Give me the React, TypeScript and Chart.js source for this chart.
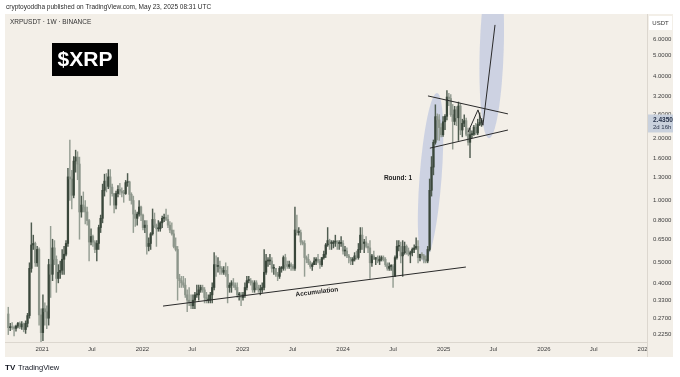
import React, { useEffect, useRef } from 'react';
import { Chart, registerables } from 'chart.js';

Chart.register(...registerables);

// ---- time axis: days counted from 2021-01-01; weekly candles start on Monday 2020-08-31
const FIRST_WEEK_DAY = -123;
const FIRST_OPEN = 0.283;

// ---- weekly XRPUSDT candles (close / high / low), open = previous close
const close2020 = [0.243, 0.245, 0.243, 0.241, 0.247, 0.255, 0.245, 0.253, 0.238, 0.255, 0.278, 0.47, 0.61, 0.62, 0.5, 0.58, 0.28, 0.23];
const high2020 = [0.305, 0.255, 0.257, 0.248, 0.25, 0.258, 0.259, 0.26, 0.256, 0.262, 0.285, 0.5, 0.78, 0.68, 0.63, 0.6, 0.59, 0.3];
const low2020 = [0.225, 0.235, 0.238, 0.222, 0.234, 0.242, 0.24, 0.238, 0.232, 0.228, 0.245, 0.27, 0.45, 0.58, 0.48, 0.48, 0.25, 0.17];

const close2021 = [0.3, 0.29, 0.27, 0.49, 0.44, 0.59, 0.52, 0.42, 0.45, 0.46, 0.52, 0.55, 0.62, 1.3, 1.27, 1.06, 1.55, 1.62, 1.5, 0.88, 0.95, 0.93, 0.88, 0.8, 0.63, 0.67, 0.63, 0.58, 0.62, 0.74, 0.82, 1.12, 1.24, 1.17, 1.3, 1.16, 1.08, 0.95, 1.08, 1.13, 1.11, 1.09, 1.08, 1.22, 1.23, 1.07, 1.0, 0.86, 0.82, 0.86, 0.93, 0.85];
const high2021 = [0.35, 0.32, 0.31, 0.52, 0.75, 0.65, 0.64, 0.54, 0.49, 0.51, 0.58, 0.6, 0.64, 1.43, 1.96, 1.4, 1.63, 1.75, 1.72, 1.62, 1.05, 1.1, 1.0, 0.93, 0.81, 0.73, 0.68, 0.64, 0.64, 0.76, 0.85, 1.2, 1.34, 1.35, 1.41, 1.41, 1.2, 1.08, 1.11, 1.18, 1.21, 1.15, 1.12, 1.25, 1.35, 1.24, 1.09, 1.05, 0.9, 0.88, 1.0, 0.94];
const low2021 = [0.21, 0.25, 0.24, 0.25, 0.34, 0.41, 0.49, 0.36, 0.4, 0.42, 0.44, 0.44, 0.54, 0.6, 1.0, 0.91, 1.03, 1.37, 1.26, 0.65, 0.83, 0.88, 0.77, 0.76, 0.51, 0.61, 0.6, 0.56, 0.51, 0.58, 0.7, 0.78, 1.05, 1.1, 1.14, 0.95, 1.05, 0.87, 0.91, 1.04, 1.07, 1.04, 0.98, 1.07, 1.17, 1.0, 0.96, 0.7, 0.75, 0.76, 0.84, 0.8];

const close2022 = [0.74, 0.76, 0.6, 0.62, 0.69, 0.81, 0.76, 0.73, 0.73, 0.78, 0.82, 0.83, 0.81, 0.76, 0.72, 0.69, 0.6, 0.58, 0.42, 0.41, 0.4, 0.39, 0.35, 0.33, 0.32, 0.31, 0.33, 0.35, 0.35, 0.37, 0.38, 0.37, 0.34, 0.33, 0.33, 0.35, 0.38, 0.49, 0.48, 0.48, 0.47, 0.45, 0.46, 0.44, 0.38, 0.39, 0.4, 0.39, 0.38, 0.35, 0.35, 0.34];
const high2022 = [0.86, 0.8, 0.8, 0.66, 0.7, 0.91, 0.87, 0.77, 0.8, 0.79, 0.84, 0.86, 0.91, 0.85, 0.79, 0.78, 0.72, 0.66, 0.6, 0.44, 0.43, 0.43, 0.42, 0.37, 0.38, 0.35, 0.35, 0.36, 0.39, 0.39, 0.39, 0.39, 0.38, 0.36, 0.35, 0.36, 0.4, 0.56, 0.54, 0.53, 0.51, 0.48, 0.48, 0.5, 0.48, 0.4, 0.41, 0.42, 0.4, 0.4, 0.36, 0.36];
const low2022 = [0.72, 0.7, 0.55, 0.57, 0.58, 0.68, 0.74, 0.6, 0.71, 0.71, 0.74, 0.79, 0.8, 0.74, 0.7, 0.68, 0.59, 0.57, 0.33, 0.38, 0.38, 0.38, 0.34, 0.29, 0.31, 0.3, 0.3, 0.3, 0.34, 0.33, 0.36, 0.36, 0.32, 0.32, 0.32, 0.32, 0.32, 0.37, 0.43, 0.45, 0.44, 0.44, 0.44, 0.43, 0.32, 0.36, 0.36, 0.38, 0.37, 0.34, 0.33, 0.31];

const close2023 = [0.35, 0.38, 0.41, 0.41, 0.4, 0.37, 0.4, 0.38, 0.37, 0.37, 0.38, 0.45, 0.51, 0.51, 0.51, 0.47, 0.47, 0.44, 0.43, 0.47, 0.47, 0.53, 0.49, 0.48, 0.49, 0.48, 0.47, 0.72, 0.7, 0.7, 0.63, 0.62, 0.53, 0.52, 0.5, 0.48, 0.49, 0.51, 0.52, 0.51, 0.49, 0.53, 0.55, 0.61, 0.64, 0.62, 0.62, 0.63, 0.63, 0.62, 0.62, 0.62];
const high2023 = [0.36, 0.4, 0.43, 0.43, 0.42, 0.41, 0.41, 0.41, 0.39, 0.39, 0.4, 0.58, 0.55, 0.53, 0.55, 0.53, 0.49, 0.47, 0.45, 0.48, 0.48, 0.54, 0.55, 0.51, 0.51, 0.5, 0.49, 0.93, 0.85, 0.74, 0.72, 0.64, 0.64, 0.54, 0.55, 0.51, 0.5, 0.53, 0.53, 0.55, 0.52, 0.53, 0.57, 0.62, 0.74, 0.65, 0.64, 0.64, 0.68, 0.64, 0.64, 0.67];
const low2023 = [0.33, 0.34, 0.37, 0.4, 0.39, 0.36, 0.36, 0.37, 0.36, 0.35, 0.36, 0.37, 0.44, 0.48, 0.49, 0.45, 0.44, 0.43, 0.41, 0.42, 0.45, 0.46, 0.46, 0.47, 0.47, 0.46, 0.46, 0.46, 0.68, 0.68, 0.61, 0.61, 0.43, 0.5, 0.49, 0.47, 0.46, 0.49, 0.49, 0.5, 0.47, 0.48, 0.52, 0.53, 0.6, 0.58, 0.58, 0.59, 0.6, 0.58, 0.58, 0.6];

const close2024 = [0.57, 0.57, 0.54, 0.53, 0.51, 0.52, 0.54, 0.53, 0.58, 0.68, 0.62, 0.63, 0.6, 0.59, 0.5, 0.54, 0.52, 0.53, 0.51, 0.52, 0.53, 0.52, 0.49, 0.47, 0.48, 0.48, 0.43, 0.53, 0.6, 0.6, 0.54, 0.56, 0.6, 0.57, 0.55, 0.56, 0.58, 0.59, 0.6, 0.53, 0.55, 0.54, 0.52, 0.51, 0.58, 1.12, 1.45, 1.91, 2.54, 2.45, 2.25, 2.08, 2.4];
const high2024 = [0.64, 0.6, 0.59, 0.55, 0.53, 0.53, 0.56, 0.57, 0.62, 0.74, 0.74, 0.65, 0.67, 0.62, 0.64, 0.55, 0.57, 0.53, 0.54, 0.54, 0.54, 0.54, 0.53, 0.5, 0.5, 0.49, 0.49, 0.54, 0.64, 0.64, 0.63, 0.64, 0.63, 0.61, 0.59, 0.57, 0.59, 0.61, 0.66, 0.64, 0.55, 0.56, 0.55, 0.54, 0.6, 1.27, 1.63, 1.96, 2.9, 2.62, 2.6, 2.35, 2.54];
const low2024 = [0.55, 0.54, 0.53, 0.5, 0.49, 0.49, 0.51, 0.52, 0.52, 0.56, 0.58, 0.56, 0.59, 0.56, 0.42, 0.48, 0.52, 0.49, 0.5, 0.49, 0.51, 0.51, 0.48, 0.46, 0.46, 0.46, 0.38, 0.43, 0.52, 0.57, 0.5, 0.43, 0.55, 0.55, 0.54, 0.5, 0.54, 0.56, 0.58, 0.5, 0.51, 0.52, 0.5, 0.5, 0.5, 0.57, 1.05, 1.33, 1.87, 1.96, 1.95, 2.03, 2.04];

const close2025 = [2.55, 3.16, 3.11, 2.6, 2.41, 2.74, 2.51, 2.86, 2.19, 2.36, 2.43, 2.09, 1.91, 2.08, 2.09, 2.26, 2.12, 2.33, 2.38, 2.435];
const high2025 = [2.6, 3.4, 3.29, 3.25, 2.91, 2.85, 2.84, 2.99, 2.95, 2.47, 2.59, 2.5, 2.24, 2.24, 2.17, 2.31, 2.36, 2.47, 2.65, 2.49];
const low2025 = [2.2, 2.45, 2.87, 2.55, 1.77, 2.32, 2.3, 1.95, 2.08, 2.03, 2.27, 2.05, 1.85, 1.61, 2.01, 2.06, 2.08, 2.08, 2.3, 2.28];

// ---- axes
const xTickDays = [0, 181, 365, 546, 730, 911, 1095, 1277, 1461, 1642, 1826, 2007, 2191];
const xTickLabels = ['2021', 'Jul', '2022', 'Jul', '2023', 'Jul', '2024', 'Jul', '2025', 'Jul', '2026', 'Jul', '2027'];
const yTickValues = [6, 5, 4, 3.2, 2.6, 2, 1.6, 1.3, 1, 0.8, 0.65, 0.5, 0.4, 0.33, 0.27, 0.225];
const X_MIN = -135;
const X_MAX = 2201;
const Y_MIN = 0.2072;
const Y_MAX = 7.96;
const lastPrice = 2.435;
const countdownText = '2d 16h';

// ---- drawings in (day, price)
const upperWedge = [[1404, 3.2], [1695, 2.62]];
const lowerWedge = [[1411, 1.79], [1695, 2.19]];
const accumulationLine = [[440, 0.309], [1542, 0.477]];
const projectionPath = [[1550, 2.14], [1586, 2.74], [1604, 2.31], [1648, 7.05]];
const rallyEllipse = { from: [1390, 0.505], to: [1437, 3.31], width: 22 };
const targetEllipse = { from: [1626, 2.0], to: [1646, 14.5], width: 24 };
const roundLabel = { day: 1295, price: 1.285, text: 'Round: 1' };
const accumulationLabel = { day: 1000, price: 0.361, text: 'Accumulation' };

const PANEL = '#f3efe8';
const UP_BODY = '#3a473b';
const DOWN_BODY = '#8c958a';
const UP_WICK = '#4f5c50';
const DOWN_WICK = '#959e93';
const FONT = "'Liberation Sans', Arial, sans-serif";

export default function App() {
  const ref = useRef<HTMLCanvasElement | null>(null);

  useEffect(() => {
    const closes = [...close2020, ...close2021, ...close2022, ...close2023, ...close2024, ...close2025];
    const highs = [...high2020, ...high2021, ...high2022, ...high2023, ...high2024, ...high2025];
    const lows = [...low2020, ...low2021, ...low2022, ...low2023, ...low2024, ...low2025];

    const bodies: any[] = [];
    const wicks: any[] = [];
    const bodyColors: string[] = [];
    const wickColors: string[] = [];
    closes.forEach((c, i) => {
      const o = i === 0 ? FIRST_OPEN : closes[i - 1];
      const x = FIRST_WEEK_DAY + 7 * i;
      const up = c >= o;
      bodies.push({ x, y: [Math.min(o, c), Math.max(o, c)] });
      wicks.push({ x, y: [lows[i], highs[i]] });
      bodyColors.push(up ? UP_BODY : DOWN_BODY);
      wickColors.push(up ? UP_WICK : DOWN_WICK);
    });

    const px = (chart: any, p: number[]) => [
      chart.scales.x.getPixelForValue(p[0]),
      chart.scales.y.getPixelForValue(p[1]),
    ];

    const drawEllipse = (ctx: any, chart: any, e: any) => {
      const a = px(chart, e.from);
      const b = px(chart, e.to);
      const cx = (a[0] + b[0]) / 2;
      const cy = (a[1] + b[1]) / 2;
      const len = Math.hypot(b[0] - a[0], b[1] - a[1]);
      const ang = Math.atan2(b[1] - a[1], b[0] - a[0]);
      ctx.beginPath();
      ctx.ellipse(cx, cy, len / 2, e.width / 2, ang, 0, Math.PI * 2);
      ctx.fillStyle = 'rgba(125,150,215,0.32)';
      ctx.fill();
    };

    const drawPath = (ctx: any, chart: any, pts: number[][]) => {
      ctx.beginPath();
      pts.forEach((p, i) => {
        const q = px(chart, p);
        if (i === 0) ctx.moveTo(q[0], q[1]);
        else ctx.lineTo(q[0], q[1]);
      });
      ctx.strokeStyle = '#2a2a2a';
      ctx.lineWidth = 1;
      ctx.stroke();
    };

    const decor = {
      id: 'decor',
      beforeDraw(chart: any) {
        const { ctx, chartArea: ca } = chart;
        const ys = chart.scales.y;
        const xs = chart.scales.x;
        ctx.save();
        ctx.fillStyle = '#ffffff';
        ctx.fillRect(0, 0, chart.width, chart.height);
        ctx.fillStyle = PANEL;
        ctx.fillRect(ca.left, ca.top, ca.right - ca.left + ys.width, ca.bottom - ca.top + xs.height);
        ctx.fillStyle = '#2b2b2b';
        ctx.font = `6.5px ${FONT}`;
        ctx.textBaseline = 'middle';
        ctx.textAlign = 'left';
        ctx.fillText('cryptoyoddha published on TradingView.com, May 23, 2025 08:31 UTC', 6, 7.5);
        ctx.restore();
      },
      beforeDatasetsDraw(chart: any) {
        const { ctx, chartArea: ca } = chart;
        ctx.save();
        ctx.beginPath();
        ctx.rect(ca.left, ca.top, ca.right - ca.left, ca.bottom - ca.top);
        ctx.clip();
        drawEllipse(ctx, chart, rallyEllipse);
        drawEllipse(ctx, chart, targetEllipse);
        ctx.restore();
      },
      afterDatasetsDraw(chart: any) {
        const { ctx, chartArea: ca } = chart;
        ctx.save();
        ctx.beginPath();
        ctx.rect(ca.left, ca.top, ca.right - ca.left, ca.bottom - ca.top);
        ctx.clip();
        drawPath(ctx, chart, upperWedge);
        drawPath(ctx, chart, lowerWedge);
        drawPath(ctx, chart, accumulationLine);
        drawPath(ctx, chart, projectionPath);

        ctx.fillStyle = '#1e1e1e';
        ctx.font = `bold 6.5px ${FONT}`;
        ctx.textBaseline = 'middle';
        ctx.textAlign = 'center';
        const r = px(chart, [roundLabel.day, roundLabel.price]);
        ctx.fillText(roundLabel.text, r[0], r[1]);

        const a0 = px(chart, accumulationLine[0]);
        const a1 = px(chart, accumulationLine[1]);
        const ang = Math.atan2(a1[1] - a0[1], a1[0] - a0[0]);
        const al = px(chart, [accumulationLabel.day, accumulationLabel.price]);
        ctx.save();
        ctx.translate(al[0], al[1]);
        ctx.rotate(ang);
        ctx.fillText(accumulationLabel.text, 0, 0);
        ctx.restore();

        ctx.fillStyle = '#333333';
        ctx.font = `6.5px ${FONT}`;
        ctx.textAlign = 'left';
        ctx.fillText('XRPUSDT · 1W · BINANCE', 10, 22.5);

        ctx.fillStyle = '#000000';
        ctx.fillRect(52, 43, 66, 33);
        ctx.fillStyle = '#ffffff';
        ctx.font = `bold 21px ${FONT}`;
        ctx.textAlign = 'center';
        ctx.fillText('$XRP', 85, 60);
        ctx.restore();
      },
      afterDraw(chart: any) {
        const { ctx, chartArea: ca } = chart;
        const ys = chart.scales.y;
        const xs = chart.scales.x;
        ctx.save();
        ctx.strokeStyle = '#dcd7cf';
        ctx.lineWidth = 1;
        ctx.beginPath();
        ctx.moveTo(Math.round(ca.right) + 0.5, ca.top);
        ctx.lineTo(Math.round(ca.right) + 0.5, ca.bottom + xs.height);
        ctx.moveTo(ca.left, Math.round(ca.bottom) + 0.5);
        ctx.lineTo(ca.right, Math.round(ca.bottom) + 0.5);
        ctx.stroke();
        ctx.fillStyle = PANEL;
        ctx.fillRect(Math.round(ca.right) + 1, ca.bottom + 1, ys.width - 1, xs.height - 1);
        ctx.fillStyle = '#ffffff';
        ctx.fillRect(ca.right + 2, ca.top + 2, 23, 14);
        ctx.fillStyle = '#333333';
        ctx.font = `6px ${FONT}`;
        ctx.textAlign = 'center';
        ctx.textBaseline = 'middle';
        ctx.fillText('USDT', ca.right + 13.5, ca.top + 9);
        const py = ys.getPixelForValue(lastPrice);
        ctx.fillStyle = '#c9d1dd';
        ctx.fillRect(ca.right + 1, py - 6, ys.width - 1, 18);
        ctx.fillStyle = '#26324a';
        ctx.textAlign = 'left';
        ctx.font = `bold 6.5px ${FONT}`;
        ctx.fillText(lastPrice.toFixed(4), ca.right + 6, py);
        ctx.font = `6px ${FONT}`;
        ctx.fillText(countdownText, ca.right + 6, py + 7);
        ctx.fillStyle = '#131722';
        ctx.font = `bold 8px ${FONT}`;
        ctx.textAlign = 'left';
        ctx.fillText('TV', 5, 367.5);
        ctx.font = `7.5px ${FONT}`;
        ctx.fillText('TradingView', 18, 367.5);
        ctx.restore();
      },
    };

    const chart = new Chart(ref.current as HTMLCanvasElement, {
      type: 'bar',
      data: {
        datasets: [
          {
            label: 'body',
            data: bodies,
            backgroundColor: bodyColors,
            barThickness: 1.6,
            minBarLength: 1,
            grouped: false,
            clip: 0,
          } as any,
          {
            label: 'wick',
            data: wicks,
            backgroundColor: wickColors,
            barThickness: 0.8,
            grouped: false,
            clip: 0,
          } as any,
        ],
      },
      options: {
        responsive: false,
        animation: false,
        devicePixelRatio: 1,
        events: [],
        layout: { padding: { left: 5, right: 7, top: 14, bottom: 20 }, autoPadding: false } as any,
        plugins: { legend: { display: false }, tooltip: { enabled: false } },
        scales: {
          x: {
            type: 'linear',
            min: X_MIN,
            max: X_MAX,
            offset: false,
            grid: { display: false, drawTicks: false, offset: false } as any,
            border: { display: false },
            afterBuildTicks: (s: any) => {
              s.ticks = xTickDays.map((v) => ({ value: v }));
            },
            afterFit: (s: any) => {
              s.height = 15;
            },
            ticks: {
              autoSkip: false,
              maxRotation: 0,
              minRotation: 0,
              padding: 4,
              color: '#3c3c3c',
              font: { family: FONT, size: 6 },
              callback: (v: any) => {
                const i = xTickDays.indexOf(Number(v));
                return i >= 0 ? xTickLabels[i] : '';
              },
            },
          },
          y: {
            type: 'logarithmic',
            position: 'right',
            min: Y_MIN,
            max: Y_MAX,
            grid: { display: false, drawTicks: false },
            border: { display: false },
            afterBuildTicks: (s: any) => {
              s.ticks = yTickValues.map((v) => ({ value: v }));
            },
            afterFit: (s: any) => {
              s.width = 26;
            },
            ticks: {
              autoSkip: false,
              padding: 6,
              color: '#3c3c3c',
              font: { family: FONT, size: 6 },
              callback: (v: any) => Number(v).toFixed(4),
            },
          },
        },
      } as any,
      plugins: [decor],
    });
    return () => chart.destroy();
  }, []);

  return (
    <div style={{ position: 'fixed', left: 0, top: 0, width: 680, height: 377, background: '#fff' }}>
      <canvas ref={ref} width={680} height={377} style={{ display: 'block', width: 680, height: 377 }} />
    </div>
  );
}
